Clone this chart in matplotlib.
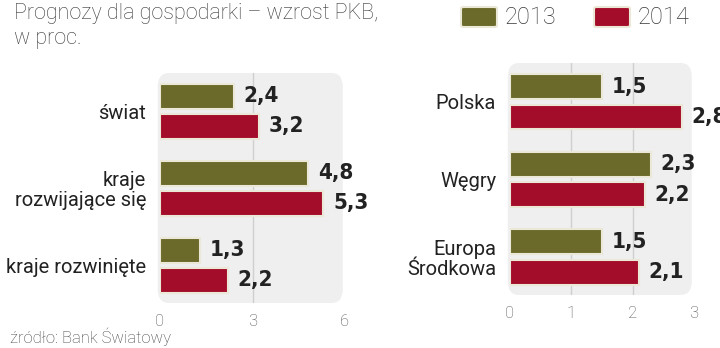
import numpy as np
import matplotlib.pyplot as plt
from matplotlib.patches import FancyBboxPatch

# Dane
regiony = ["świat", "kraje\nrozwijające się", "kraje rozwinięte"]
regiony_2013 = [2.4, 4.8, 1.3]
regiony_2014 = [3.2, 5.3, 2.2]

kraje = ["Polska", "Węgry", "Europa\nŚrodkowa"]
kraje_2013 = [1.5, 2.3, 1.5]
kraje_2014 = [2.8, 2.2, 2.1]

lata = ["2013", "2014"]
kolory = ["#6b6a2b", "#a30d2a"]

plt.rcParams['font.family'] = ['Roboto', 'DejaVu Sans']

fig = plt.figure(figsize=(7.2, 3.48), dpi=100)
W, H = 720, 348


def px_axes(x0, x1, y_top, y_bot):
    return fig.add_axes([x0 / W, 1 - y_bot / H, (x1 - x0) / W, (y_bot - y_top) / H])


def panel(ax, labels, v13, v14, xmax, ticks):
    y = np.arange(len(labels))
    h = 0.32
    off = 0.195
    ax.set_xlim(0, xmax)
    ax.set_ylim(2.49, -0.5)
    ax.set_facecolor('none')
    # tło z zaokrąglonymi rogami
    bg = FancyBboxPatch((-0.012, 0), 1.0, 1.0, boxstyle="round,pad=0,rounding_size=0.06",
                        transform=ax.transAxes, facecolor='#efefef', edgecolor='none',
                        zorder=0, clip_on=False)
    ax.add_patch(bg)
    for t in ticks[1:-1]:
        ax.axvline(t, color='#cfcfcf', linewidth=1, zorder=1)
    for vals, dy, c in [(v13, -off, kolory[0]), (v14, off, kolory[1])]:
        ax.barh(y + dy, vals, height=h, color=c, edgecolor='#ece8d8', linewidth=1.5, zorder=2)
        for yi, v in zip(y, vals):
            ax.annotate(f"{v:.1f}".replace(".", ","), (v, yi + dy), xytext=(7, 0),
                        textcoords='offset points', va='center', ha='left',
                        fontsize=16, fontweight='bold', fontstretch='condensed',
                        color='#222222', family=['DejaVu Sans'], zorder=3,
                        annotation_clip=False)
    ax.set_yticks(y)
    ax.set_yticklabels(labels, fontsize=14.5, color='#222222', linespacing=1.05)
    ax.set_xticks(ticks)
    ax.set_xticklabels([str(t) for t in ticks], fontsize=12, fontweight='light', color='#555555')
    ax.tick_params(length=0, axis='y', pad=10)
    ax.tick_params(length=0, axis='x', pad=8)
    for s in ax.spines.values():
        s.set_visible(False)


ax1 = px_axes(160, 345, 73, 303)
panel(ax1, regiony, regiony_2013, regiony_2014, 6, [0, 3, 6])

ax2 = px_axes(510, 694, 63, 295)
panel(ax2, kraje, kraje_2013, kraje_2014, 3, [0, 1, 2, 3])

# Tytuł
fig.text(14 / W, 1 - 3 / H, "Prognozy dla gospodarki – wzrost PKB,\nw proc.",
         ha='left', va='top', fontsize=15.5, fontweight='light', color='#383838', linespacing=1.25)

# Legenda (ręcznie, w pikselach)
for i, (rok, c) in enumerate(zip(lata, kolory)):
    x0 = 461 + i * 133
    box = FancyBboxPatch((x0 / W, 1 - 27 / H), 36 / W, 20 / H,
                         boxstyle="round,pad=0,rounding_size=0.004",
                         transform=fig.transFigure, facecolor=c, edgecolor='#ece8d8',
                         linewidth=1.5)
    fig.patches.append(box)
    fig.text((x0 + 44) / W, 1 - 17 / H, rok, ha='left', va='center',
             fontsize=17, fontweight='light', color='#383838')

# Źródło
fig.text(10 / W, 1 - 337 / H, "źródło: Bank Światowy", ha='left', va='center',
         fontsize=12, fontweight='light', color='#444444')

fig.savefig("out.png", dpi=100)
